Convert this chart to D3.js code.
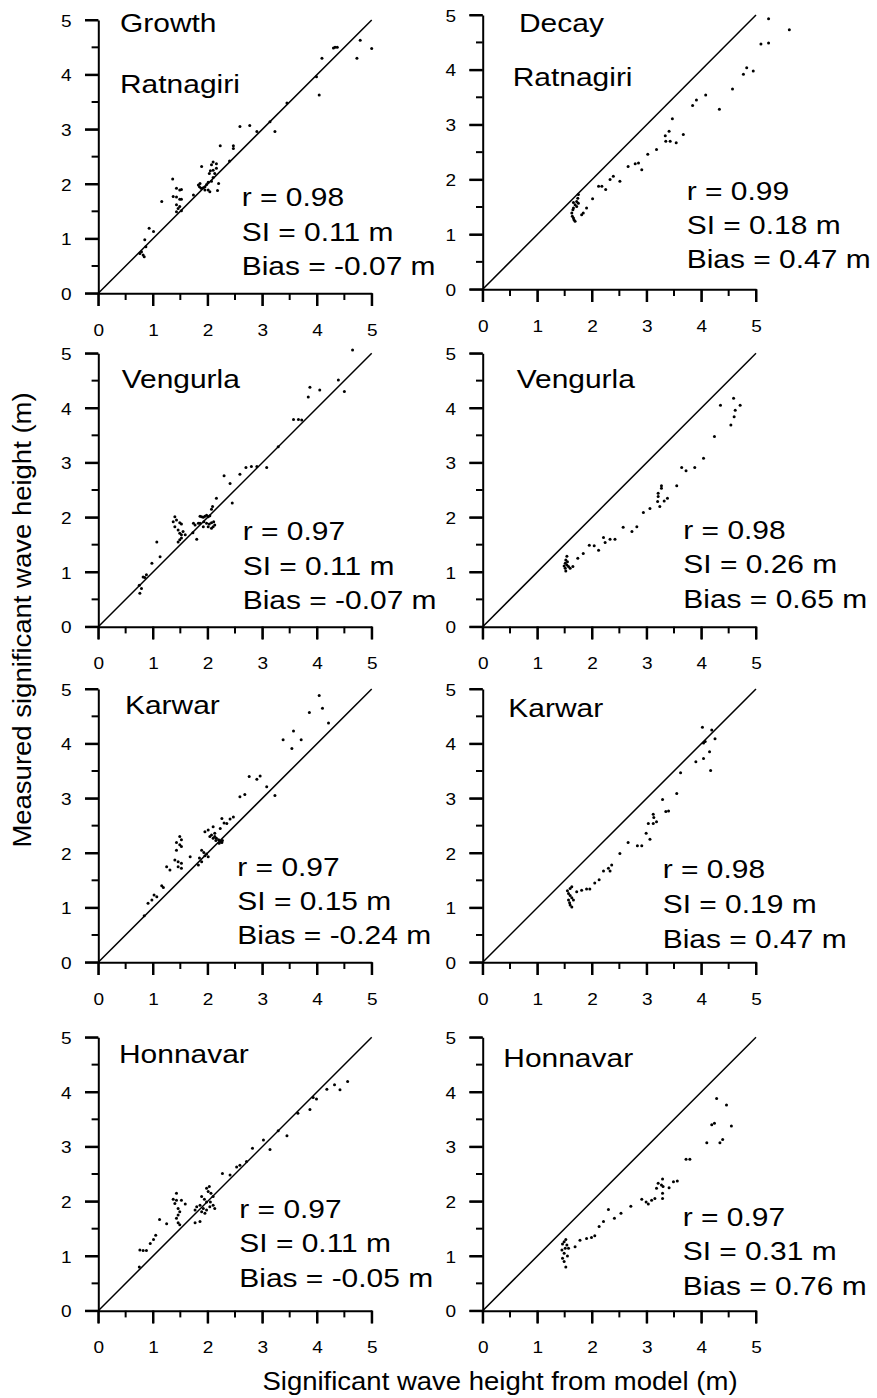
<!DOCTYPE html>
<html>
<head>
<meta charset="utf-8">
<script src="https://cdn.jsdelivr.net/npm/d3@7"></script>
<style>
  html, body { margin: 0; padding: 0; background: #fff; }
  svg { display: block; }
  text { font-family: "Liberation Sans", Arial, Helvetica, sans-serif; fill: #000; }
</style>
</head>
<body>
<svg id="chart" width="877" height="1398"></svg>
<script>
// ---------------- DATA ----------------
const majorTicks = [0, 1, 2, 3, 4, 5];
const minorTicks = [0.5, 1.5, 2.5, 3.5, 4.5];
const yAxisTitle = "Measured significant wave height (m)";
const xAxisTitle = "Significant wave height from model (m)";

const stations = ["Ratnagiri", "Vengurla", "Karwar", "Honnavar"];
const phases = ["Growth", "Decay"];

// [model Hs, measured Hs]
const growthRatnagiri = [
  [4.79,4.63],[5.0,4.48],[4.73,4.30],[4.30,4.49],[4.33,4.50],[4.37,4.50],[4.09,4.30],[3.99,3.96],[4.04,3.63],
  [3.45,3.48],[3.14,3.14],[3.23,2.96],[2.90,2.96],[2.59,3.05],[2.77,3.07],[2.47,2.65],[2.47,2.70],[2.23,2.70],
  [2.40,2.42],[2.10,2.40],[2.16,2.37],[2.07,2.35],[1.89,2.32],[2.05,2.24],[2.10,2.25],[2.13,2.19],[2.03,2.19],
  [2.16,2.29],[2.20,2.01],[2.18,1.88],[2.10,2.12],[2.07,2.05],[2.01,2.03],[1.98,1.99],[1.92,1.93],
  [1.83,1.98],[1.85,1.95],[1.88,1.92],[1.95,1.89],[2.01,1.89],[2.04,1.86],[1.86,2.01],[1.95,1.95],
  [1.74,1.80],[1.36,2.09],[1.43,1.92],[1.49,1.89],[1.52,1.90],[1.37,1.77],[1.43,1.76],[1.49,1.72],[1.52,1.72],
  [1.43,1.62],[1.49,1.59],[1.46,1.55],[1.52,1.51],[1.43,1.49],[1.16,1.68],[0.93,1.19],[1.01,1.13],[0.85,0.98],
  [0.79,0.76],[0.82,0.70],[0.84,0.67],[0.76,0.73],[0.87,0.85]
];
const decayRatnagiri = [
  [5.23,4.93],[5.61,4.73],[5.09,4.47],[5.23,4.49],[4.83,4.04],[4.77,3.92],[4.95,3.98],[4.57,3.65],[4.33,3.28],
  [4.08,3.54],[3.91,3.45],[3.84,3.35],[3.47,3.11],[3.41,2.88],[3.34,2.80],[3.35,2.70],[3.43,2.70],[3.54,2.67],
  [3.67,2.82],[3.18,2.55],[3.02,2.46],[2.91,2.18],[2.85,2.30],[2.79,2.29],[2.66,2.24],[2.51,1.97],[2.39,2.06],
  [2.33,2.00],[2.25,1.82],[2.18,1.88],[2.12,1.88],[2.01,1.65],[1.90,1.48],[1.84,1.39],[1.81,1.36],
  [1.75,1.73],[1.74,1.66],[1.72,1.60],[1.69,1.54],[1.66,1.48],[1.65,1.45],[1.63,1.39],[1.64,1.33],[1.66,1.30],
  [1.67,1.27],[1.69,1.24],[1.72,1.51],[1.75,1.57],[1.66,1.58]
];
const growthVengurla = [
  [4.65,5.06],[4.39,4.51],[4.50,4.30],[4.05,4.33],[3.87,4.38],[3.84,4.20],[3.57,3.79],[3.66,3.79],[3.72,3.78],
  [3.29,3.29],[2.70,2.91],[2.80,2.93],[2.90,2.93],[3.08,2.91],[2.59,2.79],[2.30,2.76],[2.41,2.62],[2.45,2.26],
  [2.16,2.35],[2.09,2.20],[2.07,2.15],
  [1.86,2.02],[1.89,2.01],[1.92,2.00],[1.95,2.02],[1.98,2.04],[2.01,2.01],[2.04,2.03],[1.93,1.92],[1.98,1.89],
  [2.03,1.88],[2.07,1.90],[2.11,1.92],[1.86,1.89],[1.92,1.83],[2.01,1.83],[2.10,1.83],[2.13,1.86],[2.07,1.80],
  [1.74,1.89],[1.77,1.86],[1.83,1.89],[1.80,1.60],[1.73,1.72],[1.40,2.01],[1.43,1.95],[1.37,1.92],[1.49,1.90],
  [1.52,1.88],[1.40,1.83],[1.46,1.77],[1.49,1.71],[1.52,1.68],[1.55,1.74],[1.49,1.59],[1.46,1.55],[1.52,1.62],
  [1.59,1.68],[1.07,1.55],[1.13,1.28],[0.98,1.16],[0.88,0.95],[0.82,0.91],[0.85,0.90],[0.75,0.76],[0.76,0.61],
  [0.79,0.70]
];
const decayVengurla = [
  [4.59,4.18],[4.71,4.05],[4.62,3.96],[4.60,3.84],[4.54,3.69],[4.35,4.05],[4.24,3.48],[4.04,3.08],[3.88,2.91],
  [3.72,2.85],[3.64,2.91],[3.55,2.58],[3.27,2.58],[3.27,2.53],[3.21,2.44],[3.21,2.38],[3.38,2.35],[3.32,2.30],
  [3.20,2.29],[3.24,2.20],[3.06,2.16],[2.94,2.09],[2.82,1.83],[2.73,1.74],[2.57,1.82],[2.42,1.60],[2.33,1.60],
  [2.21,1.63],[2.24,1.54],[2.12,1.40],[2.04,1.48],[1.95,1.49],[1.84,1.34],[1.74,1.25],[1.65,1.10],
  [1.54,1.29],[1.52,1.22],[1.51,1.16],[1.54,1.13],[1.57,1.10],[1.51,1.07],[1.52,1.02],[1.60,1.07],[1.55,1.19],
  [1.49,1.11]
];
const growthKarwar = [
  [4.04,4.88],[4.10,4.65],[3.86,4.57],[4.21,4.38],[3.57,4.23],[3.38,4.07],[3.71,4.07],[3.54,3.91],[2.96,3.41],
  [2.90,3.35],[2.76,3.40],[3.08,3.21],[3.23,3.05],[2.59,3.03],[2.68,3.07],[2.47,2.66],[2.41,2.62],[2.26,2.63],
  [2.35,2.54],[2.30,2.55],[2.10,2.48],[2.23,2.45],[1.95,2.39],[2.01,2.42],
  [2.07,2.33],[2.13,2.30],[2.16,2.27],[2.20,2.24],[2.23,2.21],[2.26,2.19],[2.10,2.27],[2.15,2.23],[2.21,2.18],
  [2.27,2.23],[2.13,2.36],[2.04,2.30],[1.89,2.05],[1.93,2.01],[1.98,1.98],[2.01,1.93],[1.95,1.95],[1.85,1.91],
  [1.83,1.78],[1.89,1.84],[1.68,1.93],[1.49,2.30],[1.52,2.24],[1.43,2.19],[1.49,2.15],[1.52,2.12],[1.43,2.05],
  [1.40,1.87],[1.46,1.84],[1.52,1.81],[1.46,1.75],[1.52,1.72],[1.25,1.75],[1.31,1.69],[1.16,1.40],[1.19,1.37],
  [1.02,1.23],[1.07,1.20],[0.98,1.14],[0.91,1.08],[0.84,0.85]
];
const decayKarwar = [
  [4.02,4.30],[4.19,4.25],[4.25,4.09],[4.07,4.04],[4.04,4.01],[4.15,3.85],[4.04,3.73],[3.90,3.67],[4.17,3.51],
  [3.62,3.47],[3.55,3.09],[3.29,2.98],[3.40,2.77],[3.35,2.76],[3.12,2.71],[3.13,2.65],[3.03,2.54],[3.12,2.54],
  [3.18,2.57],[2.99,2.36],[3.06,2.25],[2.91,2.13],[2.83,2.13],[2.66,2.19],[2.51,1.99],[2.36,1.78],[2.30,1.72],
  [2.33,1.67],[2.21,1.67],[2.13,1.51],[2.05,1.45],[1.96,1.34],[1.90,1.34],[1.81,1.32],[1.72,1.29],
  [1.63,1.38],[1.60,1.35],[1.55,1.31],[1.57,1.26],[1.60,1.22],[1.63,1.18],[1.66,1.14],[1.59,1.09],[1.60,1.05],
  [1.63,1.01],[1.57,1.14]
];
const growthHonnavar = [
  [4.56,4.19],[4.42,4.04],[4.32,4.13],[4.18,4.05],[3.99,3.87],[3.93,3.90],[3.87,3.68],[3.65,3.61],[3.45,3.20],
  [3.29,3.29],[3.14,2.95],[3.02,3.12],[2.82,2.97],[2.71,2.73],[2.53,2.63],[2.59,2.66],[2.41,2.48],[2.27,2.51],
  [1.98,2.24],[2.03,2.27],[2.01,2.18],[2.06,2.15],[2.10,2.09],
  [1.89,2.09],[1.94,2.04],[1.98,1.99],[2.05,1.99],[2.10,1.93],[2.13,1.87],[2.04,1.90],[1.98,1.84],[1.92,1.87],
  [1.86,1.93],[1.80,1.90],[1.77,1.84],[1.89,1.81],[1.95,1.78],[1.77,1.61],[1.86,1.63],[1.59,1.95],[1.43,2.15],
  [1.37,2.04],[1.40,1.96],[1.46,1.87],[1.49,1.81],[1.46,1.75],[1.43,1.69],[1.46,1.61],[1.49,1.57],[1.43,2.02],
  [1.52,2.02],[1.12,1.67],[1.25,1.59],[1.05,1.38],[1.01,1.30],[0.95,1.23],[0.76,1.11],[0.82,1.10],[0.88,1.10],
  [0.75,0.80]
];
const decayHonnavar = [
  [4.28,3.88],[4.46,3.76],[4.55,3.38],[4.24,3.43],[4.19,3.40],[4.39,3.13],[4.34,3.07],[4.10,3.07],[3.72,2.77],
  [3.79,2.77],[3.56,2.37],[3.49,2.36],[3.41,2.25],[3.30,2.27],[3.29,2.41],[3.27,2.30],[3.21,2.33],[3.18,2.24],
  [3.29,2.15],[3.29,2.05],[3.15,2.05],[3.09,2.02],[3.03,1.95],[2.99,1.99],[2.91,2.04],[2.71,1.91],[2.53,1.78],
  [2.41,1.69],[2.30,1.85],[2.21,1.63],[2.13,1.54],[2.05,1.37],[1.99,1.34],[1.90,1.32],[1.78,1.29],[1.69,1.17],
  [1.52,1.30],[1.49,1.26],[1.46,1.22],[1.54,1.20],[1.57,1.14],[1.51,1.14],[1.45,1.11],[1.49,1.05],[1.55,1.00],
  [1.46,0.96],[1.49,0.90],[1.52,0.80]
];

const statsR    = ["0.98", "0.99", "0.97", "0.98", "0.97", "0.98", "0.97", "0.97"];
const statsSI   = ["0.11", "0.18", "0.11", "0.26", "0.15", "0.19", "0.11", "0.31"];
const statsBias = ["-0.07", "0.47", "-0.07", "0.65", "-0.24", "0.47", "-0.05", "0.76"];

// ---------------- LAYOUT ----------------
const colX = [[98.3, 371.7], [482.7, 756]];
const panels = [
  { data: growthRatnagiri, col: 0, y5: 20,     y0: 293.3,  titles: [[phases[0], 120, 31.7], [stations[0], 120, 93.3]], sx: 241.7, sy: [206, 240.7, 275] },
  { data: decayRatnagiri,  col: 1, y5: 15,     y0: 289.3,  titles: [[phases[1], 519, 31.7], [stations[0], 512.7, 86]], sx: 686.7, sy: [200, 234.3, 268.3] },
  { data: growthVengurla,  col: 0, y5: 353.3,  y0: 626.7,  titles: [[stations[1], 121.7, 388.3]], sx: 242.7, sy: [540, 575, 609.3] },
  { data: decayVengurla,   col: 1, y5: 353.3,  y0: 626.7,  titles: [[stations[1], 516.7, 388.3]], sx: 683.3, sy: [539, 573.3, 607.7] },
  { data: growthKarwar,    col: 0, y5: 689,    y0: 962.3,  titles: [[stations[2], 125, 714.3]], sx: 237.3, sy: [875.7, 910, 944] },
  { data: decayKarwar,     col: 1, y5: 689,    y0: 962.3,  titles: [[stations[2], 508.3, 716.7]], sx: 662.7, sy: [878.3, 912.7, 947.7] },
  { data: growthHonnavar,  col: 0, y5: 1037.3, y0: 1310.7, titles: [[stations[3], 119, 1063.3]], sx: 239.3, sy: [1218.3, 1252.3, 1286.7] },
  { data: decayHonnavar,   col: 1, y5: 1037.3, y0: 1310.7, titles: [[stations[3], 503.3, 1066.7]], sx: 682.7, sy: [1226, 1260, 1295] }
];

const STRETCH = 1.12;
const svg = d3.select("#chart");

function stretchedText(g, str, x, y, size, anchor, stretch) {
  return g.append("text")
    .attr("transform", `translate(${x},${y}) scale(${stretch || STRETCH},1)`)
    .attr("font-size", size)
    .attr("text-anchor", anchor || "start")
    .text(str);
}

panels.forEach((p, i) => {
  const [xa, xb] = colX[p.col];
  const x = d3.scaleLinear().domain([0, 5]).range([xa, xb]);
  const y = d3.scaleLinear().domain([0, 5]).range([p.y0, p.y5]);
  const g = svg.append("g");

  // tick marks drawn from the scales (major long, minor short)
  const tickG = g.append("g").attr("stroke", "#000").attr("stroke-width", 2);
  tickG.selectAll("line.xt").data(majorTicks.concat(minorTicks)).join("line").attr("class", "xt")
    .attr("x1", d => x(d)).attr("x2", d => x(d))
    .attr("y1", p.y0).attr("y2", d => p.y0 + (Number.isInteger(d) ? 12.7 : 6.7));
  tickG.selectAll("line.yt").data(majorTicks.concat(minorTicks)).join("line").attr("class", "yt")
    .attr("y1", d => y(d)).attr("y2", d => y(d))
    .attr("x1", xa).attr("x2", d => xa - (Number.isInteger(d) ? 13.3 : 6.7));

  // axes (domain lines and labels)
  const xAx = g.append("g").attr("transform", `translate(0,${p.y0})`)
    .call(d3.axisBottom(x).tickValues(majorTicks).tickSize(12.7).tickSizeOuter(0).tickFormat(d3.format("d")));
  xAx.selectAll("text")
    .attr("y", null).attr("dy", null)
    .attr("transform", `translate(0,42.7) scale(${STRETCH},1)`)
    .attr("font-size", 17);
  const yAx = g.append("g").attr("transform", `translate(${xa},0)`)
    .call(d3.axisLeft(y).tickValues(majorTicks).tickSize(13.3).tickSizeOuter(0).tickFormat(d3.format("d")));
  yAx.selectAll("text")
    .attr("x", null).attr("dy", "0.36em")
    .attr("transform", `translate(-26.6,0) scale(${STRETCH},1)`)
    .attr("font-size", 17);
  g.selectAll(".domain, .tick line").attr("stroke", "#000").attr("stroke-width", 2);

  // 1:1 line
  g.append("line")
    .attr("x1", x(0)).attr("y1", y(0)).attr("x2", x(5)).attr("y2", y(5))
    .attr("stroke", "#000").attr("stroke-width", 1.5);

  // points
  g.append("g").selectAll("circle").data(p.data).join("circle")
    .attr("cx", d => x(d[0])).attr("cy", d => y(d[1]))
    .attr("r", 1.5).attr("fill", "#000");

  // titles
  p.titles.forEach(t => stretchedText(g, t[0], t[1], t[2], 26.5, "start", 1.13));

  // statistics
  stretchedText(g, `r = ${statsR[i]}`, p.sx, p.sy[0], 26.5, "start", 1.13);
  stretchedText(g, `SI = ${statsSI[i]} m`, p.sx, p.sy[1], 26.5, "start", 1.13);
  stretchedText(g, `Bias = ${statsBias[i]} m`, p.sx, p.sy[2], 26.5, "start", 1.13);
});

// axis titles
svg.append("text")
  .attr("transform", `translate(31,620) rotate(-90) scale(1.1,1)`)
  .attr("font-size", 25).attr("text-anchor", "middle")
  .text(yAxisTitle);
svg.append("text")
  .attr("transform", `translate(500,1390) scale(1.1,1)`)
  .attr("font-size", 25).attr("text-anchor", "middle")
  .text(xAxisTitle);
</script>
</body>
</html>
